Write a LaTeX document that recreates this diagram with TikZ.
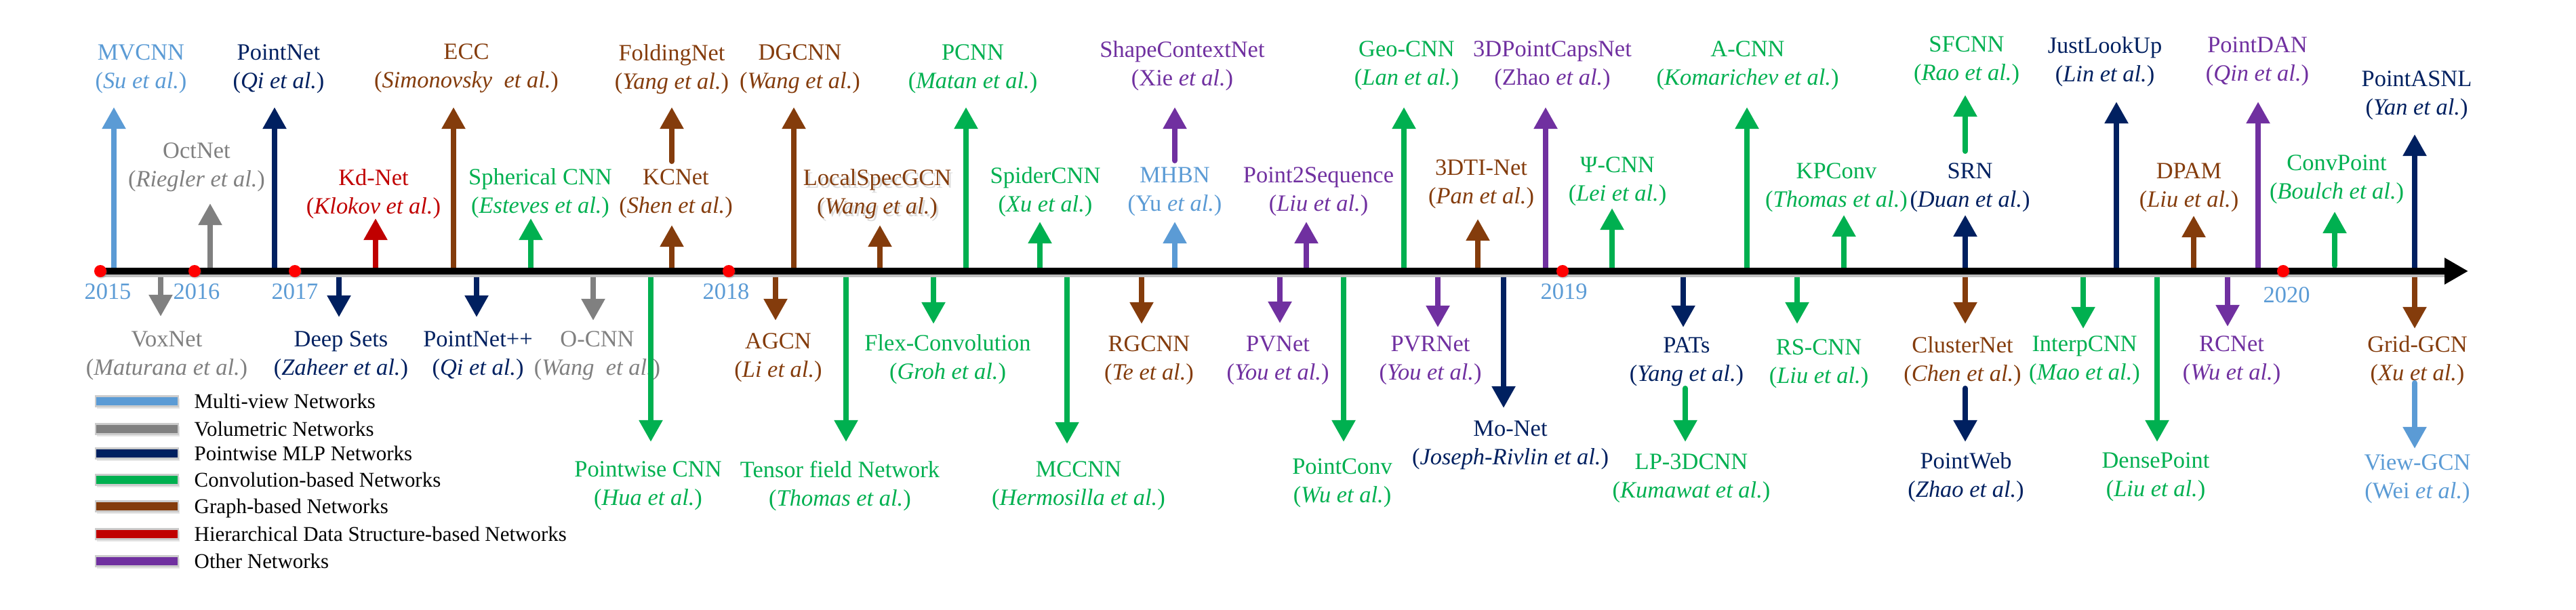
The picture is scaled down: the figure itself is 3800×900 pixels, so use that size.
\documentclass[tikz,border=0pt]{standalone}
\usepackage{fontspec}
\setmainfont{Liberation Serif}
\usetikzlibrary{arrows.meta,shadows}
\definecolor{cmv}{HTML}{5B9BD5}
\definecolor{cvol}{HTML}{808080}
\definecolor{cmlp}{HTML}{002060}
\definecolor{cconv}{HTML}{00B050}
\definecolor{cgraph}{HTML}{843C0C}
\definecolor{chier}{HTML}{C00000}
\definecolor{cother}{HTML}{7030A0}
\definecolor{cyear}{HTML}{5B9BD5}
\newcommand\TLfont{\fontsize{9.8}{12}\selectfont}
\newcommand\LGfont{\fontsize{8.8}{10}\selectfont}
% arrow: name, x, y start, y tip, colour
\newcommand\TLarr[5]{\coordinate (#1-s) at (#2,#3); \coordinate (#1-t) at (#2,#4); \draw[tlarrow,#5] (#1-s) -- (#1-t);}
\newcommand\TLsub[5]{\coordinate (#1-s) at (#2,#3); \coordinate (#1-t) at (#2,#4); \draw[tlarrow,line cap=round,#5] (#1-s) -- (#1-t);}
% label: name, x, y, colour, line 1, line 2
\newcommand\TLlab[6]{\node[tllabel,text=#4] (#1) at (#2,#3) {#5\\#6};}
% legend: name, y, colour, text
\newcommand\LGitem[4]{\node[lgbox,fill=#3] (#1) at (202,#2) {}; \node[lgtext] (#1-t) at (286,#2+10) {#4};}
\tikzset{
  tlarrow/.style={line width=0.08cm,-{Triangle[width=0.33cm,length=0.32cm]}},
  tllabel/.style={align=center,inner sep=0pt,font=\TLfont},
  yearlab/.style={text=cyear,font=\TLfont,inner sep=0pt},
  yeardot/.style={circle,fill=red,inner sep=0pt,minimum size=0.18cm,drop shadow={opacity=0.3,shadow xshift=0.01cm,shadow yshift=-0.02cm}},
  lgbox/.style={draw=black!20,line width=0.025cm,minimum width=1.22cm,minimum height=0.15cm,inner sep=0pt,drop shadow={opacity=0.2,shadow xshift=0.02cm,shadow yshift=-0.03cm}},
  lgtext/.style={anchor=base west,font=\LGfont,inner sep=0pt}
}
\begin{document}
\begin{tikzpicture}[x=0.01cm,y=-0.01cm]
\useasboundingbox (0,0) rectangle (3800,900);
% ---------- labels above the axis ----------
\TLlab{mvcnn}{208}{102}{cmv}{MVCNN}{(\textit{Su et al.})}
\TLlab{octnet}{290}{247}{cvol}{OctNet}{(\textit{Riegler et al.})}
\TLlab{pointnet}{411}{102}{cmlp}{PointNet}{(\textit{Qi et al.})}
\TLlab{kdnet}{551}{286}{chier}{Kd-Net}{(\textit{Klokov et al.})}
\TLlab{ecc}{688}{101}{cgraph}{ECC}{(\textit{Simonovsky\ \ et al.})}
\TLlab{sphcnn}{797}{285}{cconv}{Spherical CNN}{(\textit{Esteves et al.})}
\TLlab{kcnet}{997}{286}{cgraph}{KCNet}{(\textit{Shen et al.})}
\TLlab{folding}{991}{102}{cgraph}{FoldingNet}{(\textit{Yang et al.})}
\TLlab{dgcnn}{1180}{102}{cgraph}{DGCNN}{(\textit{Wang et al.})}
\node[tllabel,text=black,opacity=0.14] (lsgshadow) at (1297,290) {LocalSpecGCN\\(\textit{Wang et al.})};
\TLlab{lsg}{1294}{286}{cgraph}{LocalSpecGCN}{(\textit{Wang et al.})}
\TLlab{pcnn}{1435}{102}{cconv}{PCNN}{(\textit{Matan et al.})}
\TLlab{spider}{1542}{283}{cconv}{SpiderCNN}{(\textit{Xu et al.})}
\TLlab{scn}{1744}{97}{cother}{ShapeContextNet}{(Xie \textit{et al.})}
\TLlab{mhbn}{1733}{283}{cmv}{MHBN}{(Yu \textit{et al.})}
\TLlab{p2s}{1945}{283}{cother}{Point2Sequence}{(\textit{Liu et al.})}
\TLlab{geocnn}{2075}{97}{cconv}{Geo-CNN}{(\textit{Lan et al.})}
\TLlab{dti}{2185}{272}{cgraph}{3DTI-Net}{(\textit{Pan et al.})}
\TLlab{caps}{2290}{97}{cother}{3DPointCapsNet}{(Zhao \textit{et al.})}
\TLlab{psicnn}{2386}{268}{cconv}{Ψ-CNN}{(\textit{Lei et al.})}
\TLlab{acnn}{2578}{97}{cconv}{A-CNN}{(\textit{Komarichev et al.})}
\TLlab{kpconv}{2709}{277}{cconv}{KPConv}{(\textit{Thomas et al.})}
\TLlab{srn}{2906}{277}{cmlp}{SRN}{(\textit{Duan et al.})}
\TLlab{sfcnn}{2901}{90}{cconv}{SFCNN}{(\textit{Rao et al.})}
\TLlab{jlu}{3105}{91}{cmlp}{JustLookUp}{(\textit{Lin et al.})}
\TLlab{dpam}{3229}{277}{cgraph}{DPAM}{(\textit{Liu et al.})}
\TLlab{pdan}{3330}{91}{cother}{PointDAN}{(\textit{Qin et al.})}
\TLlab{convpoint}{3447}{265}{cconv}{ConvPoint}{(\textit{Boulch et al.})}
\TLlab{pasnl}{3565}{141}{cmlp}{PointASNL}{(\textit{Yan et al.})}
% ---------- labels below the axis ----------
\TLlab{voxnet}{246}{525}{cvol}{VoxNet}{(\textit{Maturana et al.})}
\TLlab{deepsets}{503}{525}{cmlp}{Deep Sets}{(\textit{Zaheer et al.})}
\TLlab{pnpp}{705}{525}{cmlp}{PointNet++}{(\textit{Qi et al.})}
\TLlab{ocnn}{881}{525}{cvol}{O-CNN}{(\textit{Wang\ \ et al.})}
\TLlab{pwcnn}{956}{717}{cconv}{Pointwise CNN}{(\textit{Hua et al.})}
\TLlab{agcn}{1148}{528}{cgraph}{AGCN}{(\textit{Li et al.})}
\TLlab{tfn}{1239}{717}{cconv}{Tensor field Network}{(\textit{Thomas et al.})}
\TLlab{flex}{1398}{530}{cconv}{Flex-Convolution}{(\textit{Groh et al.})}
\TLlab{mccnn}{1591}{717}{cconv}{MCCNN}{(\textit{Hermosilla et al.})}
\TLlab{rgcnn}{1695}{532}{cgraph}{RGCNN}{(\textit{Te et al.})}
\TLlab{pvnet}{1885}{532}{cother}{PVNet}{(\textit{You et al.})}
\TLlab{pconv}{1980}{713}{cconv}{PointConv}{(\textit{Wu et al.})}
\TLlab{pvrnet}{2110}{532}{cother}{PVRNet}{(\textit{You et al.})}
\TLlab{monet}{2228}{657}{cmlp}{Mo-Net}{(\textit{Joseph-Rivlin et al.})}
\TLlab{pats}{2488}{534}{cmlp}{PATs}{(\textit{Yang et al.})}
\TLlab{lp3d}{2495}{706}{cconv}{LP-3DCNN}{(\textit{Kumawat et al.})}
\TLlab{rscnn}{2683}{537}{cconv}{RS-CNN}{(\textit{Liu et al.})}
\TLlab{cluster}{2895}{533}{cgraph}{ClusterNet}{(\textit{Chen et al.})}
\TLlab{pweb}{2900}{704}{cmlp}{PointWeb}{(\textit{Zhao et al.})}
\TLlab{interp}{3075}{532}{cconv}{InterpCNN}{(\textit{Mao et al.})}
\TLlab{dense}{3180}{704}{cconv}{DensePoint}{(\textit{Liu et al.})}
\TLlab{rcnet}{3292}{532}{cother}{RCNet}{(\textit{Wu et al.})}
\TLlab{gridgcn}{3566}{532}{cgraph}{Grid-GCN}{(\textit{Xu et al.})}
\TLlab{viewgcn}{3566}{707}{cmv}{View-GCN}{(Wei \textit{et al.})}
% ---------- arrows up ----------
\TLarr{a-mvcnn}{168}{400}{158}{cmv}
\TLarr{a-octnet}{310}{400}{300}{cvol}
\TLarr{a-pointnet}{405}{400}{158}{cmlp}
\TLarr{a-kdnet}{554}{400}{322}{chier}
\TLarr{a-ecc}{669}{400}{158}{cgraph}
\TLarr{a-sph}{783}{400}{322}{cconv}
\TLarr{a-kcnet}{991}{400}{332}{cgraph}
\TLsub{a-folding}{991}{238}{158}{cgraph}
\TLarr{a-dgcnn}{1171}{400}{158}{cgraph}
\TLarr{a-lsg}{1298}{400}{332}{cgraph}
\TLarr{a-pcnn}{1425}{400}{158}{cconv}
\TLarr{a-spider}{1534}{400}{327}{cconv}
\TLsub{a-scn}{1733}{237}{158}{cother}
\TLarr{a-mhbn}{1733}{400}{327}{cmv}
\TLarr{a-p2s}{1927}{400}{327}{cother}
\TLarr{a-geo}{2071}{400}{158}{cconv}
\TLarr{a-dti}{2180}{400}{323}{cgraph}
\TLarr{a-caps}{2280}{400}{158}{cother}
\TLarr{a-psi}{2378}{400}{307}{cconv}
\TLarr{a-acnn}{2577}{400}{158}{cconv}
\TLarr{a-kpconv}{2720}{400}{317}{cconv}
\TLarr{a-srn}{2899}{400}{317}{cmlp}
\TLsub{a-sfcnn}{2899}{223}{140}{cconv}
\TLarr{a-jlu}{3122}{400}{150}{cmlp}
\TLarr{a-dpam}{3236}{400}{318}{cgraph}
\TLarr{a-pdan}{3331}{400}{150}{cother}
\TLsub{a-convpoint}{3444}{392}{312}{cconv}
\TLarr{a-pasnl}{3562}{400}{198}{cmlp}
% ---------- arrows down ----------
\TLarr{a-voxnet}{237}{400}{467}{cvol}
\TLarr{a-deepsets}{500}{400}{468}{cmlp}
\TLarr{a-pnpp}{703}{400}{468}{cmlp}
\TLarr{a-ocnn}{875}{400}{473}{cvol}
\TLarr{a-pwcnn}{960}{400}{652}{cconv}
\TLarr{a-agcn}{1144}{400}{473}{cgraph}
\TLarr{a-tfn}{1248}{400}{652}{cconv}
\TLarr{a-flex}{1377}{400}{478}{cconv}
\TLarr{a-mccnn}{1574}{400}{655}{cconv}
\TLarr{a-rgcnn}{1684}{400}{478}{cgraph}
\TLarr{a-pvnet}{1888}{400}{477}{cother}
\TLarr{a-pconv}{1982}{400}{652}{cconv}
\TLarr{a-pvrnet}{2121}{400}{483}{cother}
\TLarr{a-monet}{2218}{400}{602}{cmlp}
\TLarr{a-pats}{2483}{400}{483}{cmlp}
\TLsub{a-lp3d}{2486}{573}{652}{cconv}
\TLarr{a-rscnn}{2651}{400}{478}{cconv}
\TLarr{a-cluster}{2899}{400}{478}{cgraph}
\TLsub{a-pweb}{2899}{573}{652}{cmlp}
\TLarr{a-interp}{3073}{400}{485}{cconv}
\TLarr{a-dense}{3182}{400}{652}{cconv}
\TLarr{a-rcnet}{3286}{400}{482}{cother}
\TLarr{a-gridgcn}{3562}{400}{485}{cgraph}
\TLsub{a-viewgcn}{3562}{565}{662}{cmv}
% ---------- time axis ----------
\coordinate (axs) at (148,400);
\coordinate (axe) at (3641,400);
\coordinate (axsh-s) at (148,405);
\coordinate (axsh-e) at (3610,405);
\draw[line width=0.08cm,black!25] (axsh-s) -- (axsh-e);
\draw[line width=0.1cm,-{Triangle[width=0.37cm,length=0.35cm]}] (axs) -- (axe);
\node[yeardot] (d2015) at (148,400) {};
\node[yeardot] (d2016) at (287,400) {};
\node[yeardot] (d2017) at (435,400) {};
\node[yeardot] (d2018) at (1075,400) {};
\node[yeardot] (d2019) at (2305,400) {};
\node[yeardot] (d2020) at (3368,400) {};
\node[yearlab] (y2015) at (159,430) {2015};
\node[yearlab] (y2016) at (290,430) {2016};
\node[yearlab] (y2017) at (435,430) {2017};
\node[yearlab] (y2018) at (1071,430) {2018};
\node[yearlab] (y2019) at (2307,430) {2019};
\node[yearlab] (y2020) at (3373,435) {2020};
% ---------- legend ----------
\LGitem{lg1}{592}{cmv}{Multi-view Networks}
\LGitem{lg2}{633}{cvol}{Volumetric Networks}
\LGitem{lg3}{669}{cmlp}{Pointwise MLP Networks}
\LGitem{lg4}{708}{cconv}{Convolution-based Networks}
\LGitem{lg5}{747}{cgraph}{Graph-based Networks}
\LGitem{lg6}{788}{chier}{Hierarchical Data Structure-based Networks}
\LGitem{lg7}{828}{cother}{Other Networks}
\end{tikzpicture}
\end{document}
